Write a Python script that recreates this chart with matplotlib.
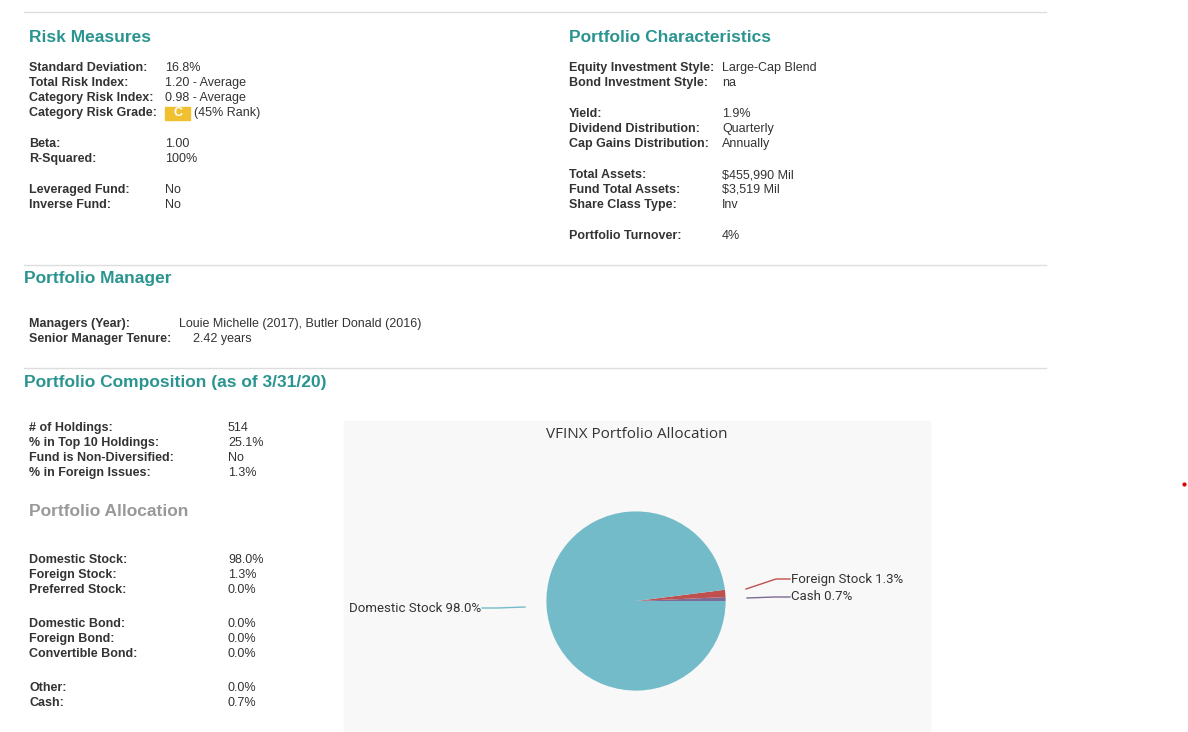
import matplotlib.pyplot as plt
from matplotlib.patches import Rectangle

plt.rcParams['font.family'] = ['Liberation Sans', 'DejaVu Sans']

TEAL = '#2a9490'
INK = '#333333'

risk_labels = ['Standard Deviation:', 'Total Risk Index:', 'Category Risk Index:', 'Category Risk Grade:',
               'Beta:', 'R-Squared:', 'Leveraged Fund:', 'Inverse Fund:']
risk_values = ['16.8%', '1.20 - Average', '0.98 - Average', '(45% Rank)', '1.00', '100%', 'No', 'No']
risk_rows = [68, 83, 98, 113, 144, 159, 190, 205]

char_labels = ['Equity Investment Style:', 'Bond Investment Style:', 'Yield:', 'Dividend Distribution:',
               'Cap Gains Distribution:', 'Total Assets:', 'Fund Total Assets:', 'Share Class Type:',
               'Portfolio Turnover:']
char_values = ['Large-Cap Blend', 'na', '1.9%', 'Quarterly', 'Annually', '$455,990 Mil', '$3,519 Mil',
               'Inv', '4%']
char_rows = [68, 83, 114, 129, 144, 175, 190, 205, 236]

mgr_labels = ['Managers (Year):', 'Senior Manager Tenure:']
mgr_values = ['Louie Michelle (2017), Butler Donald (2016)', '2.42 years']

comp_labels = ['# of Holdings:', '% in Top 10 Holdings:', 'Fund is Non-Diversified:', '% in Foreign Issues:']
comp_values = ['514', '25.1%', 'No', '1.3%']
comp_rows = [428, 443, 458, 473]

alloc_labels = ['Domestic Stock:', 'Foreign Stock:', 'Preferred Stock:', 'Domestic Bond:', 'Foreign Bond:',
                'Convertible Bond:', 'Other:', 'Cash:']
alloc_values = ['98.0%', '1.3%', '0.0%', '0.0%', '0.0%', '0.0%', '0.0%', '0.7%']
alloc_rows = [560, 575, 590, 624, 639, 654, 688, 703]

pie_names = ['Cash', 'Foreign Stock', 'Domestic Stock']
pie_values = [0.7, 1.3, 98.0]
pie_colors = ['#7f6a93', '#c0504d', '#74bbc9']

fig = plt.figure(figsize=(11.88, 7.32), dpi=100)
ax = fig.add_axes([0, 0, 1, 1])
ax.set_xlim(0, 1188)
ax.set_ylim(732, 0)
ax.axis('off')

for y in [12, 265, 368]:
    ax.plot([24, 1046], [y, y], color='#dddddd', lw=1)

def header(x, y, s, color=TEAL):
    ax.text(x, y, s, fontsize=12.5, fontweight='bold', color=color, va='center')

def rows(x1, x2, labels, values, ys):
    for lab, val, y in zip(labels, values, ys):
        ax.text(x1, y, lab, fontsize=9, fontweight='bold', color=INK, va='center')
        ax.text(x2, y, val, fontsize=9, color=INK, va='center')

header(29, 38, 'Risk Measures')
rows(29, 165, risk_labels, risk_values, risk_rows)
# grade badge shifts the rank text
ax.texts[-9].set_x(194)
ax.add_patch(Rectangle((165, 107), 25, 13, color='#f0c030'))
ax.text(177.5, 113.5, 'C', fontsize=9, fontweight='bold', color='white', ha='center', va='center')

header(569, 38, 'Portfolio Characteristics')
rows(569, 722, char_labels, char_values, char_rows)

header(24, 279, 'Portfolio Manager')
rows(29, 179, mgr_labels, mgr_values, [324, 339])
ax.texts[-1].set_x(193)

header(24, 382, 'Portfolio Composition (as of 3/31/20)')
rows(29, 228, comp_labels, comp_values, comp_rows)
header(29, 512, 'Portfolio Allocation', color='#999999')
rows(29, 228, alloc_labels, alloc_values, alloc_rows)

# chart panel
ax.add_patch(Rectangle((344, 421), 586, 310, color='#f8f8f8', zorder=0))
ax.text(637, 434, 'VFINX Portfolio Allocation', fontsize=11, color=INK, ha='center', va='center',
        family=['Open Sans', 'DejaVu Sans'])
ax.plot(1184, 484, 'o', color='#dd0000', ms=2)

cx, cy, r = 636, 601, 112
pax = fig.add_axes([(cx - r) / 1188, (732 - cy - r) / 732, 2 * r / 1188, 2 * r / 732])
pax.pie(pie_values, colors=pie_colors, startangle=0, counterclock=True,
        wedgeprops=dict(linewidth=0))
pax.set_aspect('equal')

# data labels with connectors
lab_font = dict(fontsize=9.5, color=INK, family=['Roboto', 'DejaVu Sans'], va='center')
ax.plot([746, 776, 790], [589, 579, 579], color=pie_colors[1], lw=1)
ax.text(791, 579, 'Foreign Stock 1.3%', **lab_font)
ax.plot([747, 775, 790], [598, 597, 597], color=pie_colors[0], lw=1)
ax.text(791, 597, 'Cash 0.7%', **lab_font)
ax.plot([525, 498, 482], [607, 608, 608], color=pie_colors[2], lw=1)
ax.text(481, 608, 'Domestic Stock 98.0%', ha='right', **{k: v for k, v in lab_font.items()})

fig.savefig('out.png', dpi=100)
